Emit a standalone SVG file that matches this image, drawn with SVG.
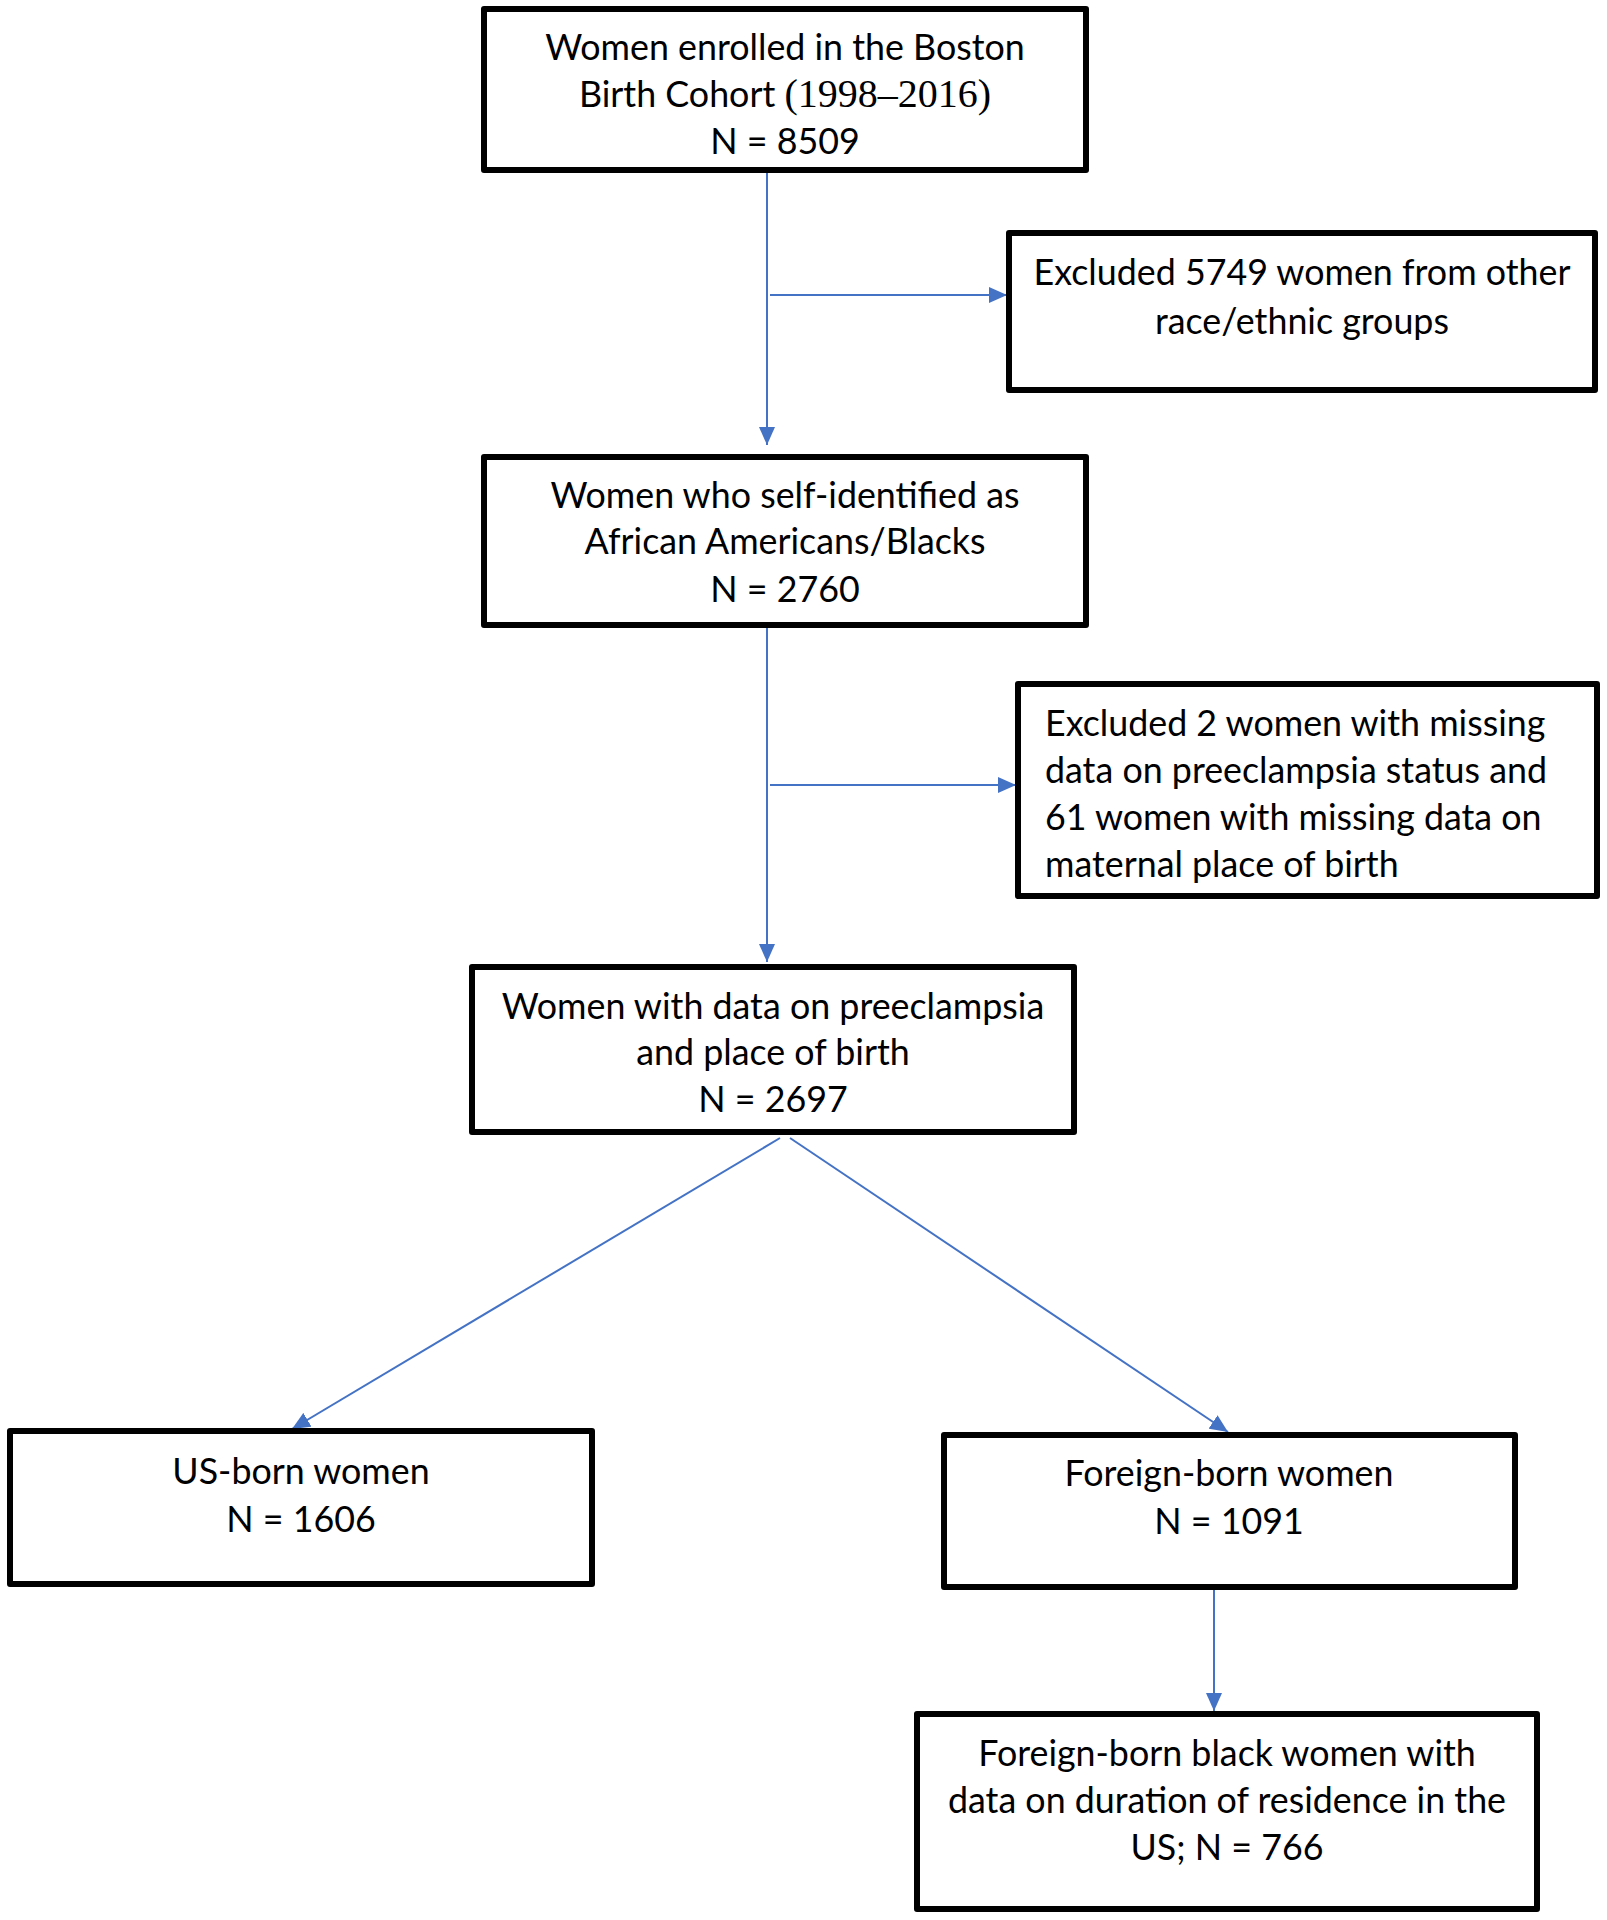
<svg xmlns="http://www.w3.org/2000/svg" width="1607" height="1920" viewBox="0 0 1607 1920">
<style>
.box{fill:#fff;stroke:#000;stroke-width:6;stroke-linejoin:round}
.t{font-family:Lato,"Liberation Sans",sans-serif;font-size:35.8px;fill:#000}
.c{text-anchor:middle}
.serif{font-family:"Liberation Serif",serif;font-size:40px}
.conn{stroke:#4472C4;stroke-width:2;fill:none}
</style>
<defs>
<marker id="ah" markerUnits="userSpaceOnUse" markerWidth="18" markerHeight="16" refX="18" refY="8" orient="auto">
<path d="M0,0 L18,8 L0,16 Z" fill="#4472C4"/>
</marker>
</defs>
<rect width="1607" height="1920" fill="#fff"/>
<g id="connectors">
<line class="conn" x1="767" y1="173" x2="767" y2="445" marker-end="url(#ah)"/>
<line class="conn" x1="770" y1="295" x2="1007" y2="295" marker-end="url(#ah)"/>
<line class="conn" x1="767" y1="628" x2="767" y2="962" marker-end="url(#ah)"/>
<line class="conn" x1="770" y1="785" x2="1016" y2="785" marker-end="url(#ah)"/>
<line class="conn" x1="780" y1="1138" x2="292" y2="1429" marker-end="url(#ah)"/>
<line class="conn" x1="790" y1="1138" x2="1228" y2="1432" marker-end="url(#ah)"/>
<line class="conn" x1="1214" y1="1590" x2="1214" y2="1711" marker-end="url(#ah)"/>
</g>
<g id="n1">
<rect class="box" x="484" y="9" width="602" height="161"/>
<text class="t c" x="785" y="60">Women enrolled in the Boston</text>
<text class="t c" x="785" y="107">Birth Cohort <tspan class="serif">(1998–2016)</tspan></text>
<text class="t c" x="785" y="154">N = 8509</text>
</g>
<g id="n2">
<rect class="box" x="1009" y="233" width="586" height="157"/>
<text class="t c" x="1302" y="285">Excluded 5749 women from other</text>
<text class="t c" x="1302" y="334">race/ethnic groups</text>
</g>
<g id="n3">
<rect class="box" x="484" y="457" width="602" height="168"/>
<text class="t c" x="785" y="508">Women who self-identified as</text>
<text class="t c" x="785" y="554">African Americans/Blacks</text>
<text class="t c" x="785" y="602">N = 2760</text>
</g>
<g id="n4">
<rect class="box" x="1018" y="684" width="579" height="212"/>
<text class="t" x="1045" y="736">Excluded 2 women with missing</text>
<text class="t" x="1045" y="783">data on preeclampsia status and</text>
<text class="t" x="1045" y="830">61 women with missing data on</text>
<text class="t" x="1045" y="877">maternal place of birth</text>
</g>
<g id="n5">
<rect class="box" x="472" y="967" width="602" height="165"/>
<text class="t c" x="773" y="1019">Women with data on preeclampsia</text>
<text class="t c" x="773" y="1065">and place of birth</text>
<text class="t c" x="773" y="1112">N = 2697</text>
</g>
<g id="n6">
<rect class="box" x="10" y="1431" width="582" height="153"/>
<text class="t c" x="301" y="1484">US-born women</text>
<text class="t c" x="301" y="1532">N = 1606</text>
</g>
<g id="n7">
<rect class="box" x="944" y="1435" width="571" height="152"/>
<text class="t c" x="1229" y="1486">Foreign-born women</text>
<text class="t c" x="1229" y="1534">N = 1091</text>
</g>
<g id="n8">
<rect class="box" x="917" y="1714" width="620" height="195"/>
<text class="t c" x="1227" y="1766">Foreign-born black women with</text>
<text class="t c" x="1227" y="1813">data on duration of residence in the</text>
<text class="t c" x="1227" y="1860">US; N = 766</text>
</g>
</svg>
